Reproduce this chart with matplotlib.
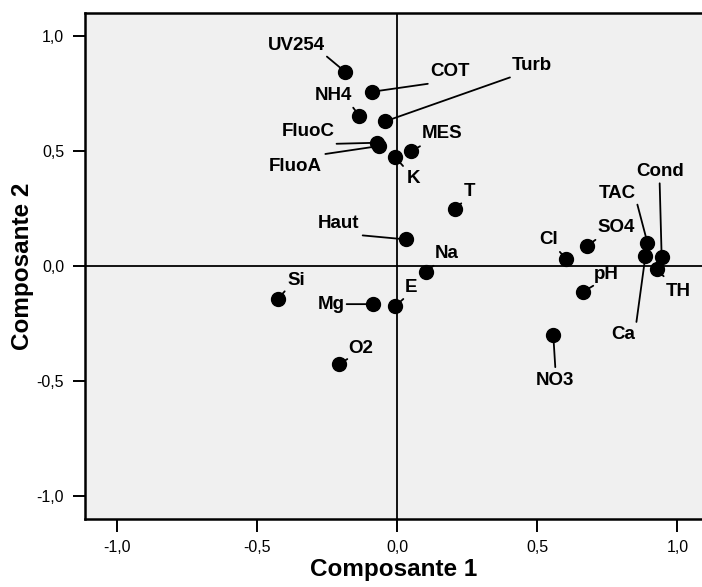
import matplotlib
matplotlib.use("Agg")
import matplotlib.pyplot as plt

# loadings
variables = ["UV254", "COT", "NH4", "Turb", "FluoC", "FluoA", "MES", "K", "T",
             "Haut", "Na", "Si", "Mg", "E", "O2", "Cond", "TAC", "Ca", "TH",
             "SO4", "Cl", "pH", "NO3"]
comp1 = [-0.187, -0.091, -0.136, -0.044, -0.074, -0.064, 0.049, -0.008, 0.207,
         0.030, 0.101, -0.427, -0.088, -0.007, -0.207, 0.944, 0.893, 0.886, 0.926,
         0.679, 0.602, 0.664, 0.557]
comp2 = [0.847, 0.759, 0.655, 0.630, 0.537, 0.523, 0.500, 0.475, 0.247,
         0.116, -0.025, -0.145, -0.166, -0.174, -0.427, 0.038, 0.102, 0.044, -0.014,
         0.088, 0.031, -0.112, -0.301]

xticks = [-1.0, -0.5, 0.0, 0.5, 1.0]
yticks = [-1.0, -0.5, 0.0, 0.5, 1.0]
tick_labels = ["-1,0", "-0,5", "0,0", "0,5", "1,0"]

# label placement: (label centre offset, leader line start offset) in pixels
placement = {
    "UV254": ((-48, 26), (-18, 15)),
    "COT": ((78, 20), (56, 8)),
    "NH4": ((-26, 20), (-6, 8)),
    "Turb": ((147, 56), (125, 44)),
    "FluoC": ((-68, 11), (-40, -1)),
    "FluoA": ((-84, -21), (-54, -8)),
    "MES": ((31, 18), (9, 5)),
    "K": ((18, -22), (8, -9)),
    "T": ((14, 18), (6, 6)),
    "Haut": ((-67, 16), (-43, 4)),
    "Na": ((21, 18), (8, 6)),
    "Si": ((19, 19), (7, 8)),
    "Mg": ((-41, 0), (-26, 0)),
    "E": ((16, 18), (8, 7)),
    "O2": ((21, 16), (8, 5)),
    "Cond": ((-2, 86), (-2, 74)),
    "TAC": ((-30, 49), (-10, 38)),
    "Ca": ((-22, -79), (-9, -66)),
    "TH": ((22, -22), (7, -7)),
    "SO4": ((29, 18), (8, 6)),
    "Cl": ((-17, 19), (-6, 7)),
    "pH": ((23, 17), (10, 6)),
    "NO3": ((2, -45), (2, -32)),
}

plt.rcParams["font.family"] = ["Liberation Sans", "DejaVu Sans"]

fig = plt.figure(figsize=(7.02, 5.87), dpi=100)
ax = fig.add_axes([85 / 702, 68 / 587, 1 - 85 / 702, 505.7 / 587])
ax.set_facecolor("#f0f0f0")

ax.axhline(0, color="black", lw=1.3, zorder=1)
ax.axvline(0, color="black", lw=1.3, zorder=1)

ax.scatter(comp1, comp2, s=100, color="black", zorder=3)

for name, x, y in zip(variables, comp1, comp2):
    (tx, ty), (lx, ly) = placement[name]
    ax.annotate("", xy=(x, y), xytext=(lx, ly), textcoords="offset pixels",
                arrowprops=dict(arrowstyle="-", color="black", lw=1.3,
                                shrinkA=0, shrinkB=0), zorder=2)
    ax.annotate(name, xy=(x, y), xytext=(tx, ty), textcoords="offset pixels",
                ha="center", va="center", fontsize=13.5, fontweight="bold",
                zorder=4)

ax.set_xlim(-1.115, 1.088)
ax.set_ylim(-1.102, 1.101)
ax.set_xticks(xticks)
ax.set_xticklabels(tick_labels)
ax.set_yticks(yticks)
ax.set_yticklabels(tick_labels)
ax.tick_params(length=9, width=1.4, pad=6, labelsize=11.5)

for side in ["left", "bottom", "top"]:
    ax.spines[side].set_linewidth(1.8)
ax.spines["right"].set_visible(False)

ax.set_xlabel("Composante 1", fontsize=17.5, fontweight="bold", labelpad=2)
ax.set_ylabel("Composante 2", fontsize=17.5, fontweight="bold", labelpad=2)

fig.savefig("out.png", dpi=100)
plt.close()
